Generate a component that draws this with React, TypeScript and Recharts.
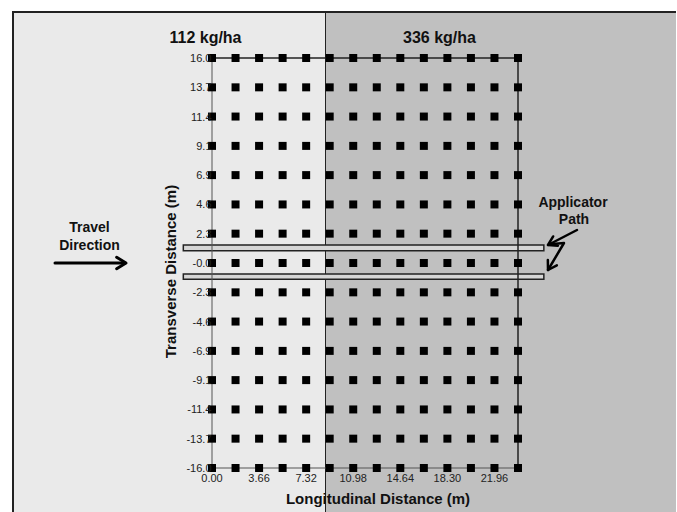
import {
  ScatterChart,
  Scatter,
  XAxis,
  YAxis,
  ReferenceLine,
  ReferenceArea,
} from 'recharts';

// sampling grid (m)
const longitudinal = [0, 1.83, 3.66, 5.49, 7.32, 9.15, 10.98, 12.81, 14.64, 16.47, 18.3, 20.13, 21.96, 23.79];
const transverse = [16.0, 13.71, 11.43, 9.14, 6.86, 4.57, 2.29, 0, -2.29, -4.57, -6.86, -9.14, -11.43, -13.71, -16.0];
const transverseLabels = ['16.0', '13.7', '11.4', '9.1', '6.9', '4.6', '2.3', '-0.0', '-2.3', '-4.6', '-6.9', '-9.1', '-11.4', '-13.7', '-16.0'];

const xTicks = [0, 3.66, 7.32, 10.98, 14.64, 18.3, 21.96];
const xTickLabels = ['0.00', '3.66', '7.32', '10.98', '14.64', '18.30', '21.96'];

// application rates for the two zones
const rateLabels = ['112 kg/ha', '336 kg/ha'];

// applicator passes (transverse extent, m) and how far they run
const applicatorPaths = [
  { y1: 0.96, y2: 1.4 },
  { y1: -1.27, y2: -0.86 },
];
const pathStart = -2.23;
const pathEnd = 25.8;

const points = longitudinal.flatMap((x) => transverse.map((y) => ({ x, y })));

const FONT = '"Liberation Sans", Arial, sans-serif';
const W = 677;
const H = 512;

function YTick({ x, y, payload }: any) {
  const i = transverse.indexOf(payload.value);
  return (
    <text x={x - 0.5} y={y} dy={4} textAnchor="end" fontSize={11} fill="#222" fontFamily={FONT}>
      {i >= 0 ? transverseLabels[i] : payload.value}
    </text>
  );
}

function XTick({ x, y, payload }: any) {
  const i = xTicks.indexOf(payload.value);
  return (
    <text x={x} y={y} dy={8} textAnchor="middle" fontSize={11} fill="#222" fontFamily={FONT}>
      {i >= 0 ? xTickLabels[i] : payload.value}
    </text>
  );
}

function head(tx: number, ty: number, fx: number, fy: number, len = 10) {
  const a = Math.atan2(ty - fy, tx - fx);
  const p1 = [tx - len * Math.cos(a - 0.55), ty - len * Math.sin(a - 0.55)];
  const p2 = [tx - len * Math.cos(a + 0.55), ty - len * Math.sin(a + 0.55)];
  return `M${p1[0]},${p1[1]} L${tx},${ty} L${p2[0]},${p2[1]}`;
}

export default function App() {
  return (
    <div
      style={{
        position: 'absolute',
        left: 0,
        top: 0,
        width: W,
        height: H,
        overflow: 'hidden',
        background: '#fff',
        fontFamily: FONT,
      }}
    >
      {/* two rate zones with the boundary line */}
      <div
        style={{
          position: 'absolute',
          left: 12,
          top: 11,
          width: W - 13,
          height: H - 11,
          boxSizing: 'border-box',
          borderTop: '2px solid #222',
          borderLeft: '2px solid #222',
          background:
            'linear-gradient(to right, #eaeaea 0px, #eaeaea 311px, #222 311px, #222 312.5px, #c0c0c0 312.5px)',
        }}
      />
      <div style={{ position: 'absolute', left: 0, top: 0 }}>
        <ScatterChart width={W} height={H} margin={{ top: 58, right: 159, bottom: 14, left: 172 }}>
          <XAxis
            type="number"
            dataKey="x"
            domain={[0, 23.79]}
            ticks={xTicks}
            interval={0}
            height={30}
            tickSize={4}
            tickMargin={2}
            stroke="#555"
            tick={<XTick />}
          />
          <YAxis
            type="number"
            dataKey="y"
            domain={[-16, 16]}
            ticks={transverse}
            interval={0}
            width={40}
            tickSize={0}
            tickMargin={0}
            tickLine={false}
            stroke="#555"
            tick={<YTick />}
          />
          <ReferenceLine y={16} stroke="#222" strokeWidth={1.5} />
          <ReferenceLine x={23.79} stroke="#222" strokeWidth={1.5} />
          {applicatorPaths.map((p, i) => (
            <ReferenceArea
              key={i}
              x1={pathStart}
              x2={pathEnd}
              y1={p.y1}
              y2={p.y2}
              ifOverflow="visible"
              fill="#d6d6d6"
              fillOpacity={1}
              stroke="#222"
              strokeWidth={1.5}
            />
          ))}
          <Scatter data={points} fill="#000" shape="square" size={56} isAnimationActive={false} />
        </ScatterChart>
      </div>
      <svg
        width={W}
        height={H}
        style={{ position: 'absolute', left: 0, top: 0, pointerEvents: 'none' }}
        fontFamily={FONT}
        fontWeight="bold"
        fill="#111"
      >
        <text x={205.5} y={43} fontSize={16} textAnchor="middle">{rateLabels[0]}</text>
        <text x={439.5} y={43} fontSize={16} textAnchor="middle">{rateLabels[1]}</text>

        <text x={89.5} y={231.5} fontSize={14} textAnchor="middle">Travel</text>
        <text x={89.5} y={250} fontSize={14} textAnchor="middle">Direction</text>
        <g stroke="#000" strokeWidth={3} fill="none" strokeLinecap="round" strokeLinejoin="round">
          <line x1={55} y1={263} x2={125} y2={263} />
          <path d={head(126, 263, 55, 263, 11)} />
        </g>

        <text x={573} y={207} fontSize={14} textAnchor="middle">Applicator</text>
        <text x={574} y={224} fontSize={14} textAnchor="middle">Path</text>
        <g stroke="#000" strokeWidth={2.5} fill="none" strokeLinecap="round" strokeLinejoin="round">
          <path d="M577,230 L548,245" />
          <path d={head(548, 245, 577, 230)} />
          <path d="M553,244 L564,243 L548,270" />
          <path d={head(548, 270, 564, 243)} />
        </g>

        <text x={378} y={504} fontSize={15} textAnchor="middle">Longitudinal Distance (m)</text>
        <text x={176} y={271.5} fontSize={15} textAnchor="middle" transform="rotate(-90 176 271.5)">
          Transverse Distance (m)
        </text>
      </svg>
    </div>
  );
}
